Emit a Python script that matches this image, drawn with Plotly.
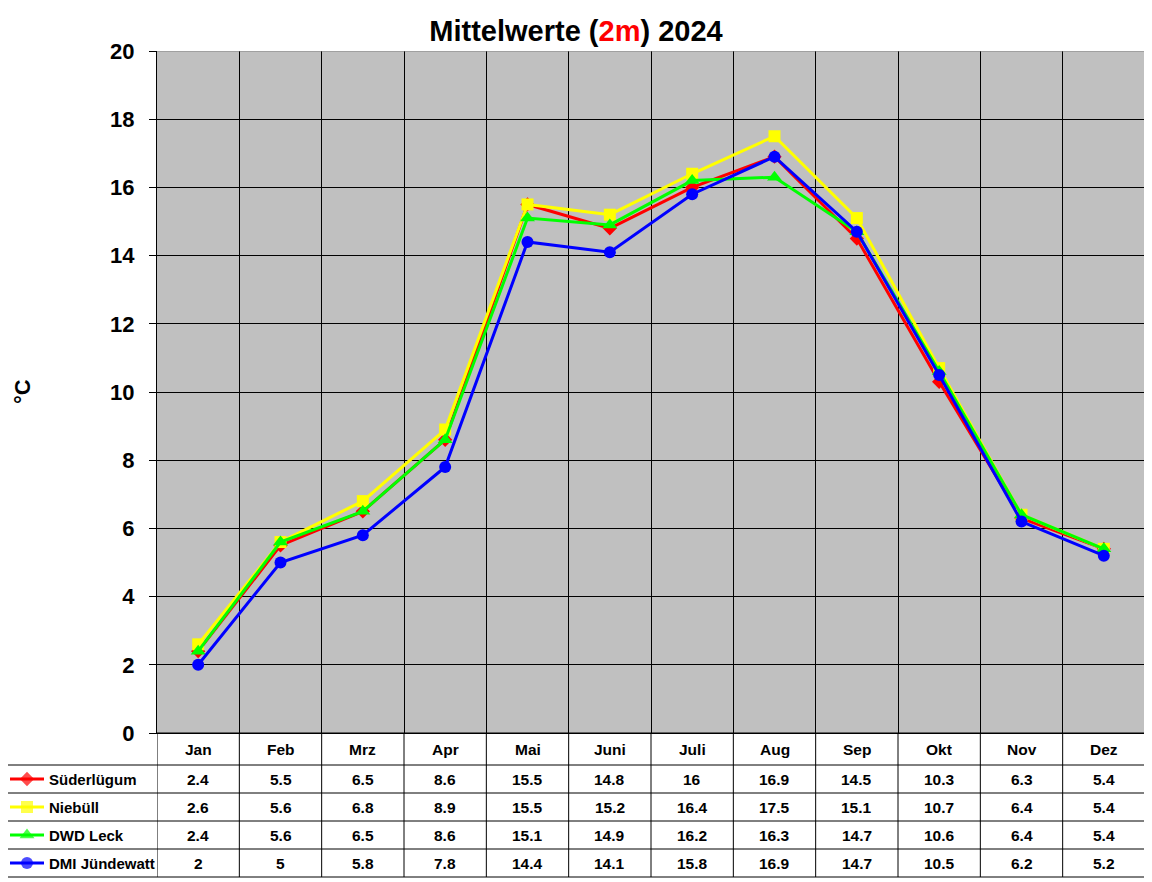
import plotly.graph_objects as go

# ---------------- data ----------------
months = ["Jan", "Feb", "Mrz", "Apr", "Mai", "Juni", "Juli", "Aug", "Sep", "Okt", "Nov", "Dez"]
suederluegum = [2.4, 5.5, 6.5, 8.6, 15.5, 14.8, 16, 16.9, 14.5, 10.3, 6.3, 5.4]
niebuell = [2.6, 5.6, 6.8, 8.9, 15.5, 15.2, 16.4, 17.5, 15.1, 10.7, 6.4, 5.4]
dwd_leck = [2.4, 5.6, 6.5, 8.6, 15.1, 14.9, 16.2, 16.3, 14.7, 10.6, 6.4, 5.4]
dmi_juendewatt = [2, 5, 5.8, 7.8, 14.4, 14.1, 15.8, 16.9, 14.7, 10.5, 6.2, 5.2]
series_names = ["Süderlügum", "Niebüll", "DWD Leck", "DMI Jündewatt"]
y_ticks = [0, 2, 4, 6, 8, 10, 12, 14, 16, 18, 20]

series_values = [suederluegum, niebuell, dwd_leck, dmi_juendewatt]

# ---------------- styles / layout geometry ----------------
colors = ["#FF0000", "#FFFF00", "#00FF00", "#0000FF"]
symbols = ["diamond", "square", "triangle-up", "circle"]
msizes = [11, 12, 13, 12]

OFF = 8                     # page body margin
W, H = 1152 - OFF, 882 - OFF


def px(v):                  # window pixel -> figure pixel
    return v - OFF


PL, PR, PT, PB = px(157), px(1145), px(51), px(733)
TABLE_LEFT = px(6)
ROW_LINES = [px(v) for v in (765, 793, 821, 849, 877)]
HEADER_Y = (PB + ROW_LINES[0]) / 2
ROW_Y = [(ROW_LINES[i] + ROW_LINES[i + 1]) / 2 for i in range(4)]

ncat = len(months)
xs = [i + 0.5 for i in range(ncat)]

BOLD = "Liberation Sans, Arial, sans-serif"
TFONT = dict(family=BOLD, size=15.5, color="black")
LFONT = dict(family=BOLD, size=15, color="black")

fig = go.Figure()

for name, vals, c, s, ms in zip(series_names, series_values, colors, symbols, msizes):
    fig.add_trace(go.Scatter(
        x=xs, y=vals, name=name, mode="lines+markers",
        line=dict(color=c, width=3),
        marker=dict(color=c, symbol=s, size=ms, line=dict(width=0)),
        xaxis="x", yaxis="y", showlegend=False,
    ))

# legend samples in the table (pixel-coordinate overlay axes)
for i, (name, c, s, ms) in enumerate(zip(series_names, colors, symbols, msizes)):
    fig.add_trace(go.Scatter(
        x=[px(10), px(27), px(44)], y=[ROW_Y[i]] * 3, mode="lines+markers",
        line=dict(color=c, width=3),
        marker=dict(color=c, symbol=s, size=[0, ms, 0], line=dict(width=0)),
        xaxis="x2", yaxis="y2", showlegend=False, hoverinfo="skip",
    ))

shapes = []
shapes.append(dict(type="rect", xref="x domain", yref="y domain", x0=0, x1=1, y0=0, y1=1,
                   fillcolor="#C0C0C0", line=dict(width=0), layer="below"))
shapes.append(dict(type="line", xref="x", yref="y", x0=0, x1=ncat, y0=20, y1=20,
                   line=dict(color="#808080", width=1), layer="above"))
shapes.append(dict(type="line", xref="x", yref="y", x0=ncat, x1=ncat, y0=0, y1=20,
                   line=dict(color="#808080", width=1), layer="above"))
for k in range(ncat + 1):
    shapes.append(dict(type="line", xref="x", yref="y2", x0=k, x1=k, y0=PB, y1=ROW_LINES[-1],
                       line=dict(color="black", width=1), layer="above"))
shapes.append(dict(type="line", xref="x", yref="y2", x0=0, x1=ncat, y0=PB, y1=PB,
                   line=dict(color="black", width=1), layer="above"))
for yl in ROW_LINES:
    shapes.append(dict(type="line", xref="x2", yref="y2", x0=TABLE_LEFT, x1=PR, y0=yl, y1=yl,
                       line=dict(color="black", width=1), layer="above"))
shapes.append(dict(type="line", xref="x2", yref="y2", x0=TABLE_LEFT, x1=TABLE_LEFT,
                   y0=ROW_LINES[0], y1=ROW_LINES[-1], line=dict(color="black", width=1), layer="above"))

annotations = []
for i, m in enumerate(months):
    annotations.append(dict(x=xs[i], y=HEADER_Y, xref="x", yref="y2", text=f"<b>{m}</b>",
                            showarrow=False, font=TFONT))
for r, vals in enumerate(series_values):
    for i, v in enumerate(vals):
        annotations.append(dict(x=xs[i], y=ROW_Y[r], xref="x", yref="y2", text=f"<b>{v:g}</b>",
                                showarrow=False, font=TFONT))
    annotations.append(dict(x=px(47), y=ROW_Y[r], xref="x2", yref="y2",
                            text=f"<b>{series_names[r]}</b>",
                            xanchor="left", showarrow=False, font=LFONT))
annotations.append(dict(x=px(22), y=px(392), xref="x2", yref="y2", text="<b>°C</b>", textangle=-90,
                        showarrow=False, font=dict(family=BOLD, size=22, color="black")))

fig.update_layout(
    width=W, height=H,
    margin=dict(l=0, r=0, t=0, b=0, autoexpand=False),
    paper_bgcolor="white", plot_bgcolor="rgba(0,0,0,0)",
    title=dict(text="<b>Mittelwerte (<span style='color:#FF0000'>2m</span>) 2024</b>",
               x=(576 - OFF) / W, xanchor="center", y=1 - px(31) / H, yanchor="middle",
               font=dict(family=BOLD, size=29, color="black")),
    xaxis=dict(domain=[PL / W, PR / W], range=[0, ncat], tick0=0, dtick=1,
               showticklabels=False, ticks="", showgrid=True, gridcolor="black", gridwidth=1,
               showline=True, linecolor="black", linewidth=1, zeroline=False,
               anchor="y", fixedrange=True, automargin=False),
    yaxis=dict(domain=[(H - PB) / H, (H - PT) / H], range=[0, 20], tickvals=y_ticks,
               ticks="outside", ticklen=7, tickcolor="black", ticklabelstandoff=10,
               tickfont=dict(family=BOLD, size=22, color="black", weight="bold"),
               showgrid=True, gridcolor="black", gridwidth=1,
               showline=True, linecolor="black", linewidth=1, zeroline=False,
               anchor="x", fixedrange=True, automargin=False),
    xaxis2=dict(domain=[0, 1], range=[0, W], visible=False, anchor="y2", fixedrange=True,
                automargin=False),
    yaxis2=dict(domain=[0, 1], range=[H, 0], visible=False, anchor="x2", fixedrange=True,
                automargin=False),
    shapes=shapes, annotations=annotations,
    showlegend=False,
)

fig.write_html("out.html")
